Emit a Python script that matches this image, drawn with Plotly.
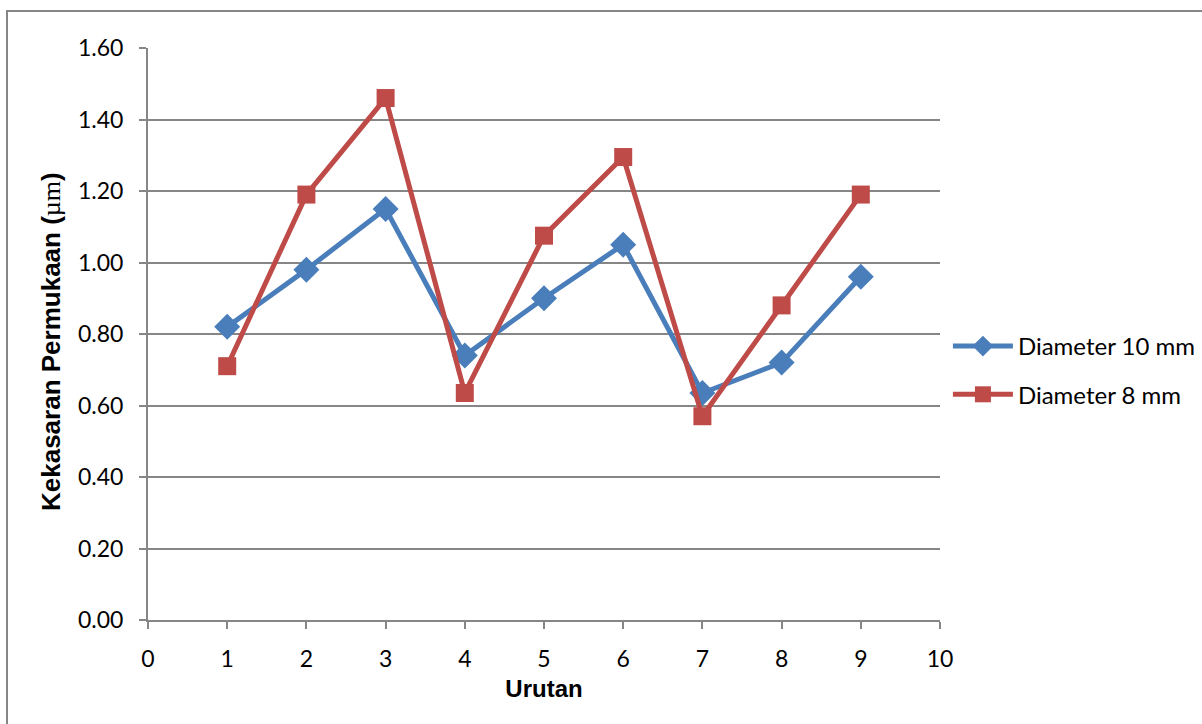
import plotly.graph_objects as go

# Urutan (run order) and measured surface roughness values
urutan = [1, 2, 3, 4, 5, 6, 7, 8, 9]
diameter_10mm = [0.82, 0.98, 1.15, 0.74, 0.90, 1.05, 0.635, 0.72, 0.96]
diameter_8mm = [0.71, 1.19, 1.46, 0.635, 1.075, 1.295, 0.57, 0.88, 1.19]

x_ticks = list(range(0, 11))
y_ticks = [0.0, 0.2, 0.4, 0.6, 0.8, 1.0, 1.2, 1.4, 1.6]

BLUE = "#4A7EBB"
RED = "#BE4B48"
GRID = "#868686"
BODY_FONT = "Lato, Open Sans, sans-serif"
TITLE_FONT = "Liberation Sans, Arial, sans-serif"
TICK_FONT = dict(family=BODY_FONT, size=23, color="#000000")

fig = go.Figure()
fig.add_trace(go.Scatter(
    x=urutan, y=diameter_10mm, name="Diameter 10 mm",
    mode="lines+markers", legendgroup="d10",
    line=dict(color=BLUE, width=5),
    marker=dict(symbol="diamond", size=20, color=BLUE),
))
fig.add_trace(go.Scatter(
    x=urutan, y=diameter_8mm, name="Diameter 8 mm",
    mode="lines+markers", legendgroup="d8",
    line=dict(color=RED, width=5),
    marker=dict(symbol="square", size=18, color=RED),
))

fig.update_layout(
    width=1202, height=724,
    margin=dict(l=148, r=262, t=48, b=104, autoexpand=False),
    paper_bgcolor="white", plot_bgcolor="white",
    showlegend=True,
    legend=dict(
        x=1.01, y=(620 - 370.5) / 572, xanchor="left", yanchor="middle",
        font=dict(family=BODY_FONT, size=24, color="#000000"),
        tracegroupgap=14, itemwidth=60,
        bgcolor="rgba(0,0,0,0)",
    ),
    xaxis=dict(
        range=[0, 10], tickvals=x_ticks, ticktext=[str(v) for v in x_ticks],
        showgrid=False, zeroline=False,
        showline=True, linecolor=GRID, linewidth=2,
        ticks="outside", ticklen=7, tickcolor=GRID, tickwidth=2,
        ticklabelstandoff=10,
        tickfont=TICK_FONT,
        title=dict(text="<b>Urutan</b>",
                   font=dict(family=TITLE_FONT, size=24, color="#000000"), standoff=10),
    ),
    yaxis=dict(
        range=[0, 1.6], tickvals=y_ticks, ticktext=[f"{v:.2f}" for v in y_ticks],
        showgrid=True, gridcolor=GRID, gridwidth=2, zeroline=False,
        showline=True, linecolor=GRID, linewidth=2,
        ticks="outside", ticklen=7, tickcolor=GRID, tickwidth=2,
        ticklabelstandoff=11,
        tickfont=TICK_FONT,
    ),
)

# vertical axis title
fig.add_annotation(
    xref="paper", yref="paper",
    x=(51 - 148) / 792, y=(620 - 342) / 572,
    xanchor="center", yanchor="middle",
    text="<b>Kekasaran Permukaan (</b><span style='font-family:Liberation Serif'>µm</span><b>)</b>",
    textangle=-90, showarrow=False,
    font=dict(family=TITLE_FONT, size=26, color="#000000"),
)

# chart-area frame
fig.add_shape(type="rect", xref="paper", yref="paper",
              x0=(7 - 148) / 792, x1=1.6, y0=-0.6, y1=1 + (48 - 11) / 572,
              line=dict(color=GRID, width=2), layer="below")

fig.write_html("out.html")
